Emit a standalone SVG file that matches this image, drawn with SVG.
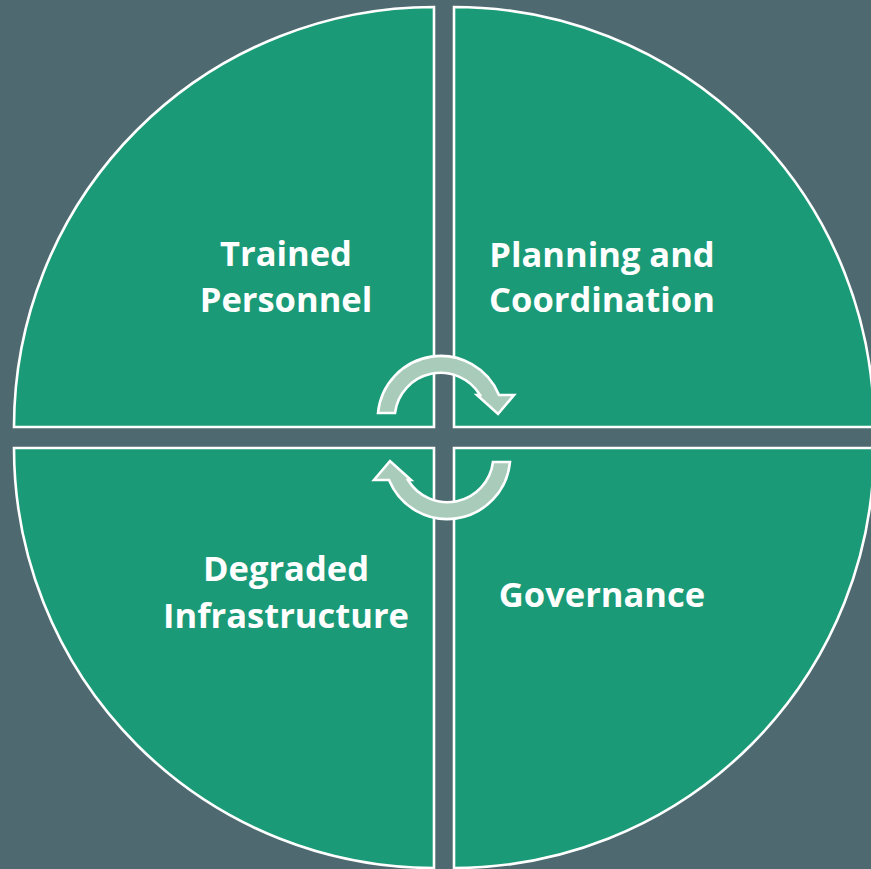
<svg xmlns="http://www.w3.org/2000/svg" width="871" height="869" viewBox="0 0 871 869">
<defs>
<style>
.q{fill:#1b9a77;stroke:#ffffff;stroke-width:2.6}
.arr{fill:#a9cbb9;stroke:#ffffff;stroke-width:2.6;stroke-linejoin:miter}
.t{font-family:"Open Sans","Noto Sans","Liberation Sans",sans-serif;font-weight:700;font-size:34.5px;fill:#ffffff;text-anchor:middle}
</style>
</defs>
<rect x="0" y="0" width="871" height="869" fill="#4e6a70"/>
<g id="trained-personnel">
<path class="q" d="M434,427 L14,427 A420,420 0 0 1 434,7 Z"/>
<text class="t" x="286" y="266">Trained</text>
<text class="t" x="286" y="311.5">Personnel</text>
</g>
<g id="planning-coordination">
<path class="q" d="M454,427 L454,7 A420,420 0 0 1 874,427 Z"/>
<text class="t" x="602" y="266.5">Planning and</text>
<text class="t" x="602" y="311.5">Coordination</text>
</g>
<g id="governance">
<path class="q" d="M454,448 L874,448 A420,420 0 0 1 454,868 Z"/>
<text class="t" x="602" y="606.5">Governance</text>
</g>
<g id="degraded-infrastructure">
<path class="q" d="M434,448 L434,868 A420,420 0 0 1 14,448 Z"/>
<text class="t" x="286" y="581">Degraded</text>
<text class="t" x="286" y="627.5">Infrastructure</text>
</g>
<g id="connectors">
<path id="arrow-top" class="arr" d="M378,413 A63,63 0 0 1 499,395 L514,395 L498,414 L477,395 L480,395 A46,46 0 0 0 395,413 Z"/>
<path id="arrow-bottom" class="arr" transform="rotate(180 444 437.5)" d="M378,413 A63,63 0 0 1 499,395 L514,395 L498,414 L477,395 L480,395 A46,46 0 0 0 395,413 Z"/>
</g>
</svg>
